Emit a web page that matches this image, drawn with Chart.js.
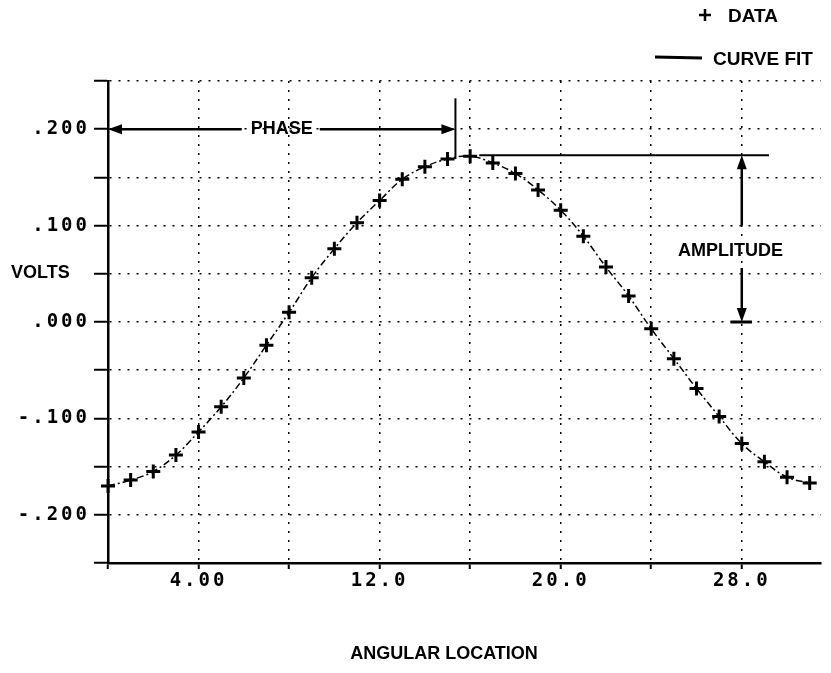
<!DOCTYPE html>
<html>
<head>
<meta charset="utf-8">
<script src="https://cdn.jsdelivr.net/npm/chart.js@4.4.0/dist/chart.umd.min.js"></script>
<style>
  body { margin: 0; background: #fff; }
  #wrap { width: 831px; height: 673px; position: relative; }
</style>
</head>
<body>
<div id="wrap"><canvas id="myChart"></canvas></div>
<script>
// angular location of each probe and the voltage read there
const angles = [0, 1, 2, 3, 4, 5, 6, 7, 8, 9, 10, 11, 12, 13, 14, 15,
                16, 17, 18, 19, 20, 21, 22, 23, 24, 25, 26, 27, 28, 29, 30, 31];
const volts = [-0.170, -0.164, -0.155, -0.138, -0.114, -0.088, -0.058, -0.024,
               0.010, 0.046, 0.076, 0.103, 0.126, 0.148, 0.161, 0.169,
               0.172, 0.165, 0.154, 0.137, 0.116, 0.089, 0.057, 0.027,
               -0.007, -0.038, -0.069, -0.098, -0.126, -0.145, -0.161, -0.167];

// labelled ticks
const xTickLabels = {4: '4.00', 12: '12.0', 20: '20.0', 28: '28.0'};
const yTickValues = [0.2, 0.1, 0, -0.1, -0.2];

// annotation values (in data units)
const phaseX = 15.35;
const phaseTop = 0.232;
const peakY = 0.173;
const ampX = 28;
const ampLineFrom = 16.4;
const ampLineTo = 29.2;

const points = angles.map((a, i) => ({x: a, y: volts[i]}));

function arrowHead(ctx, x, y, dir) {
    // dir: 'left','right','up','down'
    const L = 14, W = 5;
    ctx.beginPath();
    ctx.moveTo(x, y);
    if (dir === 'left') { ctx.lineTo(x + L, y - W); ctx.lineTo(x + L, y + W); }
    if (dir === 'right') { ctx.lineTo(x - L, y - W); ctx.lineTo(x - L, y + W); }
    if (dir === 'up') { ctx.lineTo(x - W, y + L); ctx.lineTo(x + W, y + L); }
    if (dir === 'down') { ctx.lineTo(x - W, y - L); ctx.lineTo(x + W, y - L); }
    ctx.closePath();
    ctx.fill();
}

const spacingPlugin = {
    id: 'spacing',
    beforeDraw(chart) { chart.ctx.letterSpacing = '3px'; },
    afterDraw(chart) { chart.ctx.letterSpacing = '0px'; }
};

const notes = {
    id: 'notes',
    afterDraw(chart) {
        const ctx = chart.ctx;
        const xs = chart.scales.x, ys = chart.scales.y;
        ctx.save();
        ctx.letterSpacing = '0px';
        ctx.fillStyle = '#000';
        ctx.strokeStyle = '#000';
        ctx.font = 'bold 18px "Liberation Sans", Arial, sans-serif';
        ctx.textBaseline = 'middle';

        // PHASE
        const py = ys.getPixelForValue(0.2);
        const pL = xs.getPixelForValue(0);
        const pR = xs.getPixelForValue(phaseX);
        const pc = (pL + pR) / 2;
        const tw = ctx.measureText('PHASE').width;
        ctx.textAlign = 'center';
        ctx.fillText('PHASE', pc, py);
        ctx.lineWidth = 2.5;
        ctx.beginPath();
        ctx.moveTo(pL + 10, py); ctx.lineTo(pc - tw / 2 - 9, py);
        ctx.moveTo(pc + tw / 2 + 7, py); ctx.lineTo(pR - 10, py);
        ctx.stroke();
        arrowHead(ctx, pL, py, 'left');
        arrowHead(ctx, pR, py, 'right');
        ctx.lineWidth = 2;
        ctx.beginPath();
        ctx.moveTo(pR, ys.getPixelForValue(phaseTop));
        ctx.lineTo(pR, ys.getPixelForValue(peakY - 0.004));
        ctx.stroke();

        // AMPLITUDE
        const ay = ys.getPixelForValue(peakY);
        const ax = xs.getPixelForValue(ampX);
        ctx.lineWidth = 2;
        ctx.beginPath();
        ctx.moveTo(xs.getPixelForValue(ampLineFrom), ay);
        ctx.lineTo(xs.getPixelForValue(ampLineTo), ay);
        ctx.stroke();
        ctx.lineWidth = 2.5;
        ctx.beginPath();
        ctx.moveTo(ax, ay + 10); ctx.lineTo(ax, ys.getPixelForValue(0.1));
        ctx.moveTo(ax, ys.getPixelForValue(0.056)); ctx.lineTo(ax, ys.getPixelForValue(0) - 10);
        ctx.stroke();
        arrowHead(ctx, ax, ay, 'up');
        arrowHead(ctx, ax, ys.getPixelForValue(0), 'down');
        ctx.lineWidth = 3;
        ctx.beginPath();
        ctx.moveTo(xs.getPixelForValue(27.5), ys.getPixelForValue(0));
        ctx.lineTo(xs.getPixelForValue(28.45), ys.getPixelForValue(0));
        ctx.stroke();
        ctx.textAlign = 'center';
        ctx.fillText('AMPLITUDE', xs.getPixelForValue(27.5), ys.getPixelForValue(0.074));

        // legend
        ctx.lineWidth = 2.5;
        ctx.beginPath();
        ctx.moveTo(699, 15); ctx.lineTo(711, 15);
        ctx.moveTo(705, 9); ctx.lineTo(705, 21);
        ctx.stroke();
        ctx.textAlign = 'left';
        ctx.font = 'bold 19px "Liberation Sans", Arial, sans-serif';
        ctx.fillText('DATA', 728, 17);
        ctx.lineWidth = 3;
        ctx.beginPath();
        ctx.moveTo(655, 57); ctx.lineTo(702, 58);
        ctx.stroke();
        ctx.fillText('CURVE FIT', 713, 60);

        // axis titles
        ctx.font = 'bold 18px "Liberation Sans", Arial, sans-serif';
        ctx.fillText('VOLTS', 11, 273);
        ctx.textAlign = 'center';
        ctx.fillText('ANGULAR LOCATION', 444, 654);
        ctx.restore();
    }
};

const ctx = document.getElementById('myChart');
new Chart(ctx, {
    type: 'scatter',
    data: {
        datasets: [{
            label: 'CURVE FIT',
            data: points,
            showLine: true,
            tension: 0.4,
            borderColor: '#000',
            borderWidth: 1.5,
            borderDash: [7, 3, 2, 3],
            pointRadius: 0,
            order: 2
        }, {
            label: 'DATA',
            data: points,
            showLine: false,
            pointStyle: 'cross',
            pointRadius: 7,
            pointBorderWidth: 3,
            borderColor: '#000',
            backgroundColor: '#000',
            clip: false,
            order: 1
        }]
    },
    options: {
        responsive: true,
        maintainAspectRatio: false,
        animation: false,
        layout: {padding: {top: 81, right: 9, left: 0, bottom: 0}},
        plugins: {
            legend: {display: false},
            tooltip: {enabled: false}
        },
        scales: {
            x: {
                type: 'linear',
                min: 0,
                max: 31.5,
                afterFit: (scale) => { scale.height = 110; },
                afterBuildTicks: (scale) => {
                    scale.ticks = [0, 4, 8, 12, 16, 20, 24, 28].map(v => ({value: v}));
                },
                ticks: {
                    autoSkip: false,
                    maxRotation: 0,
                    padding: 1,
                    color: '#000',
                    font: {family: '"DejaVu Sans Mono", monospace', size: 19, weight: 'bold'},
                    callback: (v) => xTickLabels[v] || ''
                },
                grid: {color: '#000', lineWidth: 1.5, tickLength: 6, tickColor: '#000', tickWidth: 2},
                border: {color: '#000', width: 2.5, dash: [2, 7]}
            },
            y: {
                min: -0.25,
                max: 0.25,
                afterFit: (scale) => { scale.width = 108; },
                afterBuildTicks: (scale) => {
                    const t = [];
                    for (let i = -5; i <= 5; i++) t.push({value: i / 20});
                    scale.ticks = t;
                },
                ticks: {
                    padding: 4,
                    color: '#000',
                    font: {family: '"DejaVu Sans Mono", monospace', size: 19, weight: 'bold'},
                    callback: (v) => {
                        const hit = yTickValues.find(t => Math.abs(t - v) < 1e-9);
                        if (hit === undefined) return '';
                        if (hit === 0) return '.000';
                        return hit.toFixed(3).replace('0.', '.');
                    }
                },
                grid: {color: '#000', lineWidth: 1.5, tickLength: 14, tickColor: '#000', tickWidth: 2},
                border: {color: '#000', width: 2.5, dash: [2, 7]}
            }
        }
    },
    plugins: [spacingPlugin, notes]
});
</script>
</body>
</html>
